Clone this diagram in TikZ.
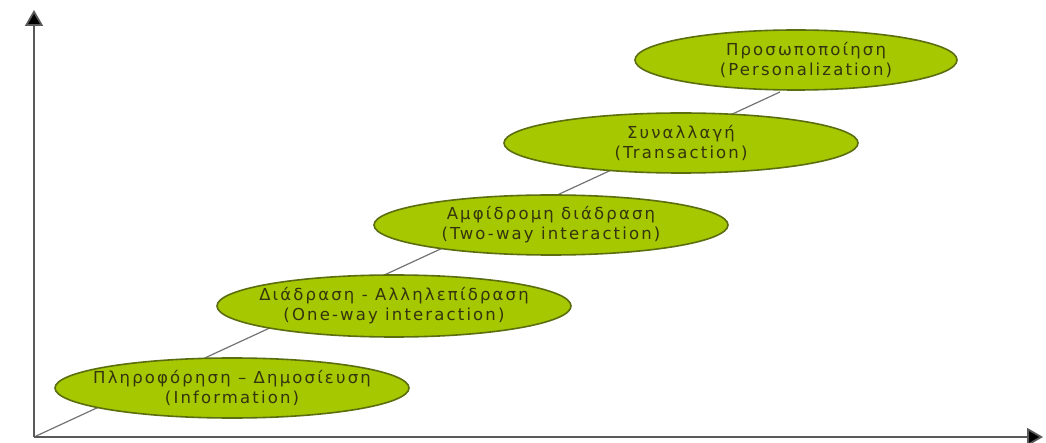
\documentclass[tikz,border=0pt]{standalone}
\usepackage{fontspec}
\setmainfont{DejaVu Sans}[LetterSpace=13]
\usetikzlibrary{shapes.geometric,arrows.meta}
\definecolor{fillg}{HTML}{A6C800}
\definecolor{edgeg}{HTML}{5A6E10}
\definecolor{txt}{HTML}{34340E}
\begin{document}
\begin{tikzpicture}[x=1pt,y=-1pt,
  stage/.style={ellipse, draw=edgeg, line width=1.6pt, fill=fillg, inner sep=0pt,
     minimum width=354pt, minimum height=60pt},
  stagetext/.style={text=txt, align=center, inner sep=0pt, font=\fontsize{16.5}{20}\selectfont},
  axis/.style={draw=black!65, line width=1.8pt, -{Triangle[length=16pt,width=18pt,fill=black]}}]
\useasboundingbox (0,0) rectangle (1046,443);
\coordinate (o) at (34,437);
\coordinate (ytop) at (34,10);
\coordinate (xend) at (1043,437);
\coordinate (dend) at (780,92);
\draw[black!55, line width=1.2pt] (o) -- (dend);
\node[stage] (s1) at (232,388) {};
\node[stagetext] (t1) at (s1.center) {Πληροφόρηση – Δημοσίευση\\(Information)};
\node[stage, minimum height=62pt] (s2) at (394,306) {};
\node[stagetext] (t2) at (s2.center) {Διάδραση - Αλληλεπίδραση\\(One-way interaction)};
\node[stage] (s3) at (551,225) {};
\node[stagetext] (t3) at (s3.center) {Αμφίδρομη διάδραση\\(Two-way interaction)};
\node[stage] (s4) at (681,143) {};
\node[stagetext] (t4) at (s4.center) {Συναλλαγή\\(Transaction)};
\node[stage, minimum width=322pt] (s5) at (796,60) {};
\node[stagetext] (t5) at ([xshift=10pt]s5.center) {Προσωποποίηση\\(Personalization)};
\draw[axis] (o) -- (ytop);
\draw[axis] (o) -- (xend);
\end{tikzpicture}
\end{document}
